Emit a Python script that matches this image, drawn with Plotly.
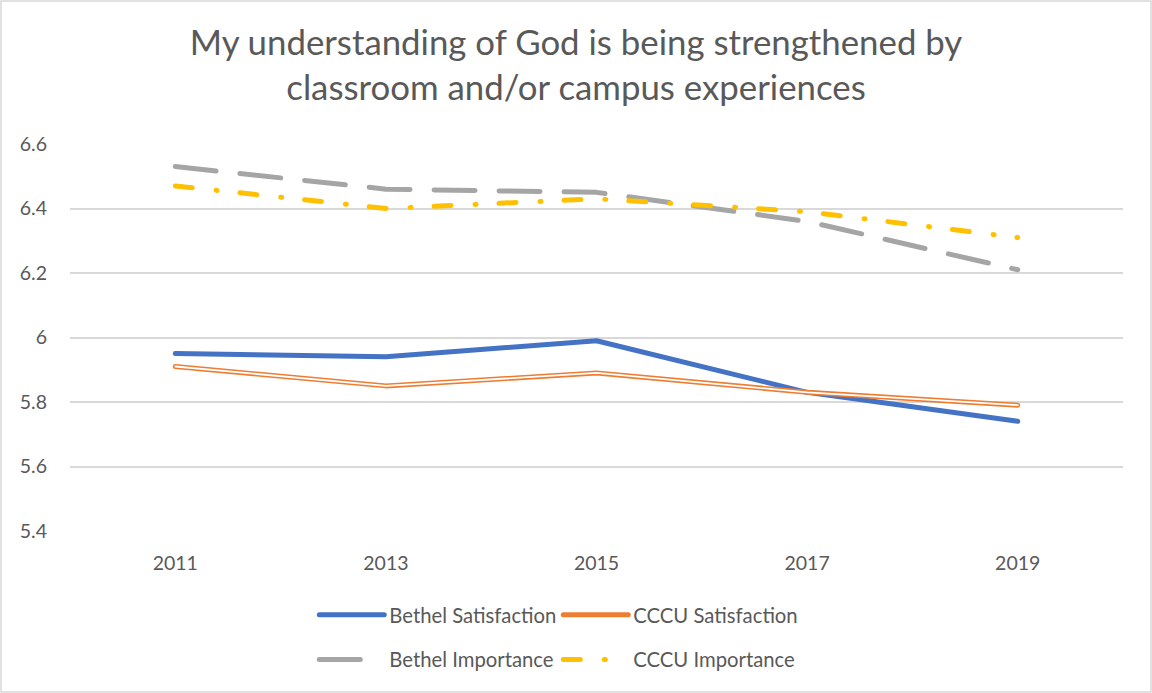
import plotly.graph_objects as go

years = ["2011", "2013", "2015", "2017", "2019"]
bethel_sat = [5.95, 5.94, 5.99, 5.83, 5.74]
cccu_sat = [5.91, 5.85, 5.89, 5.83, 5.79]
bethel_imp = [6.53, 6.46, 6.45, 6.36, 6.21]
cccu_imp = [6.47, 6.40, 6.43, 6.39, 6.31]
y_ticks = [5.4, 5.6, 5.8, 6.0, 6.2, 6.4, 6.6]
y_tick_text = ["5.4", "5.6", "5.8", "6", "6.2", "6.4", "6.6"]

TXT = "#595959"
FONT = "Lato"

fig = go.Figure()
fig.add_trace(go.Scatter(x=years, y=bethel_sat, mode="lines", name="Bethel Satisfaction",
                         line=dict(color="#4472C4", width=5), legend="legend"))
fig.add_trace(go.Scatter(x=years, y=cccu_sat, mode="lines", name="CCCU Satisfaction",
                         line=dict(color="#ED7D31", width=5), legend="legend"))
fig.add_trace(go.Scatter(x=years, y=cccu_sat, mode="lines", name="CCCU Satisfaction inner",
                         line=dict(color="white", width=1.8), showlegend=False, hoverinfo="skip"))
fig.add_trace(go.Scatter(x=years, y=bethel_imp, mode="lines", name="Bethel Importance",
                         line=dict(color="#A5A5A5", width=5, dash="41px,24px"), legend="legend2"))
fig.add_trace(go.Scatter(x=years, y=cccu_imp, mode="lines", name="CCCU Importance",
                         line=dict(color="#FFC000", width=5, dash="17px,24px,1px,23px"), legend="legend2"))

legend_common = dict(orientation="h", xanchor="left", x=0.232, yanchor="middle",
                     font=dict(family=FONT, size=20.3, color=TXT), entrywidth=164,
                     entrywidthmode="pixels", itemwidth=65, bgcolor="rgba(0,0,0,0)",
                     tracegroupgap=0)

fig.update_layout(
    width=1152, height=693,
    paper_bgcolor="white", plot_bgcolor="white",
    margin=dict(l=70, r=29, t=144, b=162),
    title=dict(text="My understanding of God is being strengthened by<br>classroom and/or campus experiences",
               x=0.5, xanchor="center", y=0.921, yanchor="top",
               font=dict(family=FONT, size=34.8, color=TXT)),
    xaxis=dict(type="category", range=[-0.5, 4.5], showgrid=False, zeroline=False,
               showline=False, ticks="", tickfont=dict(family=FONT, size=19.5, color=TXT),
               ticklabelstandoff=18),
    yaxis=dict(range=[5.4, 6.6], tickvals=y_ticks, ticktext=y_tick_text, showgrid=True,
               gridcolor="#D9D9D9", gridwidth=1.5, zeroline=False, showline=False,
               tickfont=dict(family=FONT, size=19.5, color=TXT), ticks="", ticklabelstandoff=22),
    legend=dict(y=-0.217, **legend_common),
    legend2=dict(y=-0.333, **legend_common),
    showlegend=True,
    shapes=[dict(type="rect", xref="paper", yref="paper",
                 x0=-69/1053, x1=1+28/1053, y0=-161/387, y1=1+143/387,
                 line=dict(color="#D9D9D9", width=1.5), fillcolor="rgba(0,0,0,0)")],
)

post = (
    "document.body.style.margin='0px';"
    "var s=document.createElement('style');"
    "s.textContent='path.js-line{stroke-linecap:round !important;stroke-linejoin:round !important;}';"
    "document.head.appendChild(s);"
)

fig.write_html("out.html", config={"displayModeBar": False}, post_script=post)
